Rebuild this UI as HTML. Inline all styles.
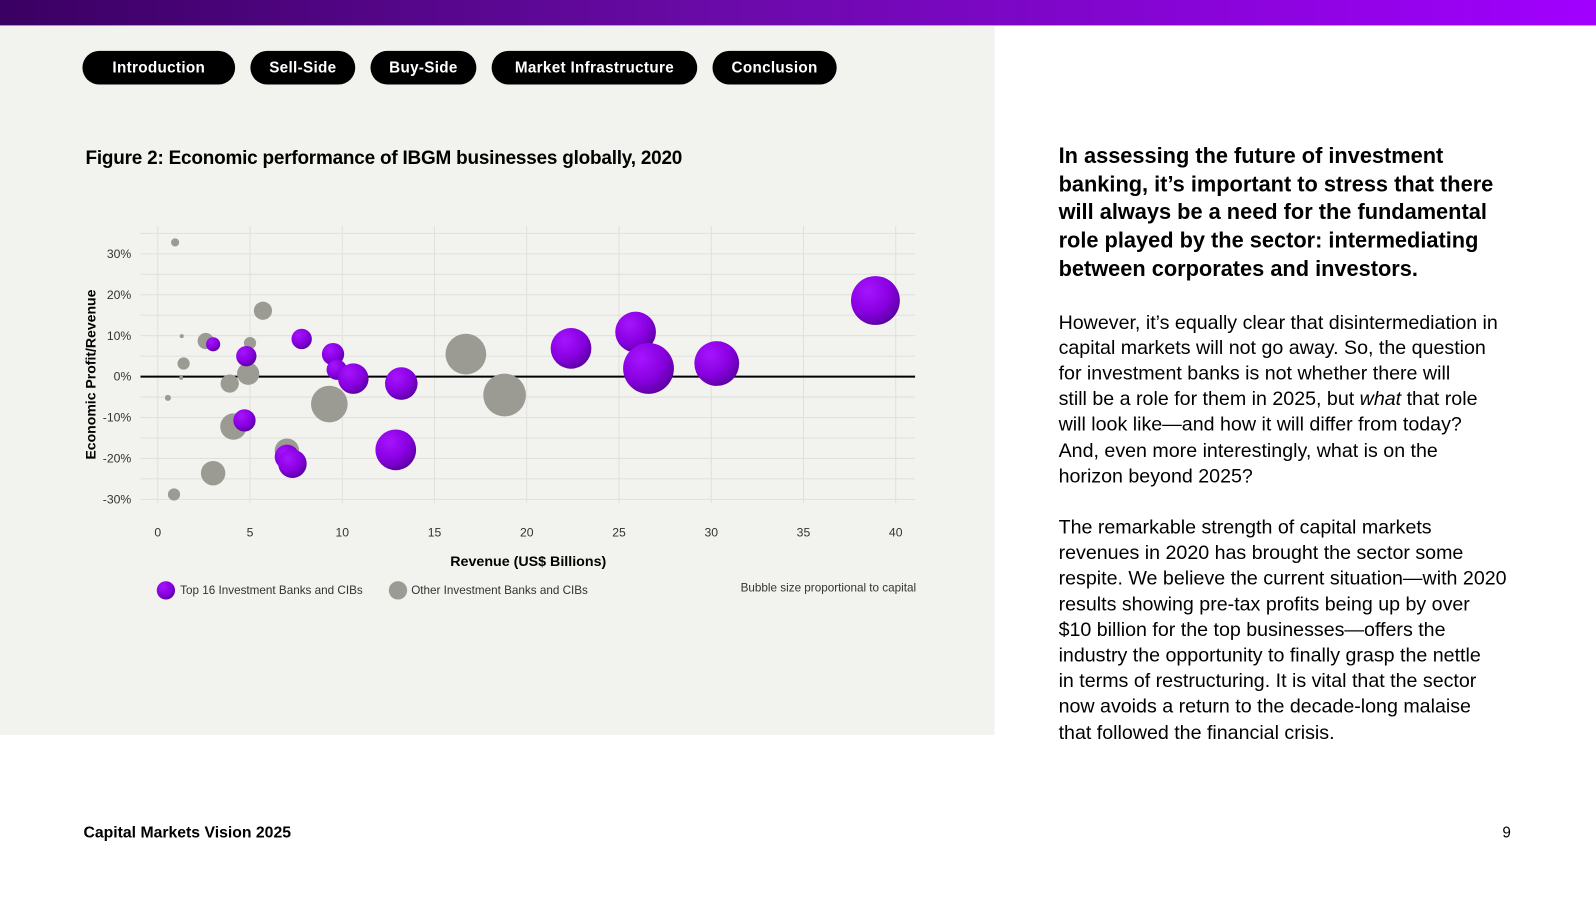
<!DOCTYPE html>
<html><head><meta charset="utf-8">
<style>
*{margin:0;padding:0;box-sizing:border-box}
body{width:1596px;height:900px;background:#fff;font-family:"Liberation Sans",sans-serif;position:relative;overflow:hidden;color:#000}
#wrap{position:absolute;left:0;top:0;width:1568px;height:884px;transform:scale(1.01786);transform-origin:0 0}
#topbar{position:absolute;left:0;top:0;width:1568px;height:25px;background:linear-gradient(90deg,#3a0062,#6a0aa8 45%,#a100ff)}
#panel{position:absolute;left:0;top:25px;width:977px;height:697px;background:#f2f2ee}
.pill{position:absolute;top:50px;height:33px;background:#000;color:#fff;border-radius:17px;font-weight:bold;font-size:15px;line-height:33px;text-align:center;letter-spacing:0.3px}
#fig-title{position:absolute;left:84px;top:144px;font-weight:bold;font-size:18.6px;letter-spacing:-0.2px}
#right{position:absolute;left:1040px;top:140px;width:470px}
#lead{font-weight:bold;font-size:21.4px;line-height:27.7px}
.p{font-size:19.3px;line-height:25.2px;margin-top:26px}
#footer{position:absolute;left:82px;top:810px;font-weight:bold;font-size:15.5px}
#pagenum{position:absolute;left:1476px;top:810px;font-size:15px}
svg text{font-family:"Liberation Sans",sans-serif}
</style></head><body>
<div id="wrap">
<div id="topbar"></div>
<div id="panel"></div>
<div class="pill" style="left:81px;width:150px">Introduction</div>
<div class="pill" style="left:246px;width:103px">Sell-Side</div>
<div class="pill" style="left:364px;width:104px">Buy-Side</div>
<div class="pill" style="left:483px;width:202px">Market Infrastructure</div>
<div class="pill" style="left:700px;width:122px">Conclusion</div>
<div id="fig-title">Figure 2: Economic performance of IBGM businesses globally, 2020</div>

<svg id="chart" width="977" height="640" style="position:absolute;left:0;top:0">
<defs>
<radialGradient id="pg" cx="35%" cy="30%" r="75%">
<stop offset="0" stop-color="#a614ff"/><stop offset="0.6" stop-color="#8800e0"/><stop offset="1" stop-color="#5a00a0"/>
</radialGradient>
</defs>
<g id="grid"></g><g id="axes"></g><g id="bubbles"></g><g id="legend"></g>
</svg>

<div id="right">
<div id="lead">In assessing the future of investment<br>banking, it’s important to stress that there<br>will always be a need for the fundamental<br>role played by the sector: intermediating<br>between corporates and investors.</div>
<div class="p">However, it’s equally clear that disintermediation in<br>capital markets will not go away. So, the question<br>for investment banks is not whether there will<br>still be a role for them in 2025, but <i>what</i> that role<br>will look like—and how it will differ from today?<br>And, even more interestingly, what is on the<br>horizon beyond 2025?</div>
<div class="p" style="margin-top:25px">The remarkable strength of capital markets<br>revenues in 2020 has brought the sector some<br>respite. We believe the current situation—with 2020<br>results showing pre-tax profits being up by over<br>$10 billion for the top businesses—offers the<br>industry the opportunity to finally grasp the nettle<br>in terms of restructuring. It is vital that the sector<br>now avoids a return to the decade-long malaise<br>that followed the financial crisis.</div>
</div>
<div id="footer">Capital Markets Vision 2025</div>
<div id="pagenum">9</div>
</div>

<script>
const xTicks=[0,5,10,15,20,25,30,35,40];
const yTicks=[30,20,10,0,-10,-20,-30];
const greyX=[0.94,1.3,1.4,1.27,0.55,0.88,2.6,3.9,4.1,3.0,5.7,5.0,4.9,7.0,9.3,16.7,18.8];
const greyY=[32.8,9.9,3.2,-0.3,-5.2,-28.8,8.7,-1.7,-12.2,-23.6,16.1,8.2,0.7,-18.1,-6.7,5.5,-4.5];
const greyCap=[4,1,9,1,2.25,9,16,20,42,36,20,9,30,36,81,100,110];
const topX=[3.0,4.8,4.7,7.8,7.0,7.3,9.5,9.7,10.6,13.2,12.9,22.4,25.9,26.6,30.3,38.9];
const topY=[7.9,5.0,-10.7,9.2,-19.6,-21.3,5.5,1.7,-0.5,-1.7,-17.9,6.9,10.9,2.0,3.2,18.6];
const topCap=[12,25,30,25,36,49,30,25,56,64,100,100,100,156,121,144];

const NS='http://www.w3.org/2000/svg';
const X=v=>155+v*18.125;
const Y=v=>370-v*4.02;
const R=c=>2*Math.sqrt(c);
function mk(tag,attrs,parent,text){const e=document.createElementNS(NS,tag);for(const k in attrs)e.setAttribute(k,attrs[k]);if(text!==undefined)e.textContent=text;parent.appendChild(e);return e;}
const grid=document.getElementById('grid'),axes=document.getElementById('axes'),bub=document.getElementById('bubbles'),leg=document.getElementById('legend');
for(let v=-30;v<=35;v+=5){if(v===0)continue;const l=mk('line',{x1:138,x2:899,y1:Y(v),y2:Y(v),stroke:'#e0e0dc','stroke-width':1},grid);

}
xTicks.forEach(t=>{const l=mk('line',{x1:X(t),x2:X(t),y1:222,y2:494,stroke:'#e0e0dc','stroke-width':1},grid);


const tx=mk('text',{x:X(t),y:527,'text-anchor':'middle','font-size':12,fill:'#333'},axes,String(t));

});
yTicks.forEach(t=>{const tx=mk('text',{x:129,y:Y(t)+4,'text-anchor':'end','font-size':12,fill:'#333'},axes,t+'%');

});
const zl=mk('line',{x1:138,x2:899,y1:Y(0),y2:Y(0),stroke:'#000','stroke-width':2},axes);


const xt=mk('text',{x:519,y:556,'text-anchor':'middle','font-size':14,'font-weight':'bold'},axes,'Revenue (US$ Billions)');


const yt=mk('text',{x:0,y:0,transform:'translate(94,368) rotate(-90)','text-anchor':'middle','font-size':13.8,'font-weight':'bold'},axes,'Economic Profit/Revenue');


greyX.forEach((v,i)=>{const c=mk('circle',{cx:X(v),cy:Y(greyY[i]),r:R(greyCap[i]),fill:'#9b9b93'},bub);

});
topX.forEach((v,i)=>{const c=mk('circle',{cx:X(v),cy:Y(topY[i]),r:R(topCap[i]),fill:'url(#pg)'},bub);

});
const l1=mk('circle',{cx:163,cy:580,r:9,fill:'url(#pg)'},leg);


const t1=mk('text',{x:177,y:583.5,'font-size':11.5,fill:'#333'},leg,'Top 16 Investment Banks and CIBs');


const l2=mk('circle',{cx:391,cy:580,r:9,fill:'#9b9b93'},leg);


const t2=mk('text',{x:404,y:583.5,'font-size':11.5,fill:'#333'},leg,'Other Investment Banks and CIBs');


const t3=mk('text',{x:900,y:581,'text-anchor':'end','font-size':11.5,fill:'#333'},leg,'Bubble size proportional to capital');


</script>
</body></html>
